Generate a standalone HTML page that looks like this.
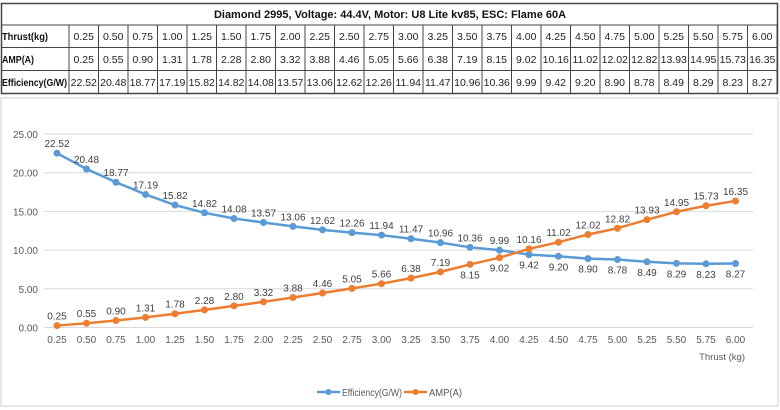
<!DOCTYPE html>
<html><head><meta charset="utf-8"><style>
body{margin:0;width:780px;height:410px;background:#fff;overflow:hidden;font-family:"Liberation Sans",Arial,sans-serif}
svg{position:absolute;left:0;top:0}
</style></head><body>
<svg id="s" width="780" height="410" xmlns="http://www.w3.org/2000/svg"></svg>
<script>
const T=[0.25,0.5,0.75,1,1.25,1.5,1.75,2,2.25,2.5,2.75,3,3.25,3.5,3.75,4,4.25,4.5,4.75,5,5.25,5.5,5.75,6];
const A=[0.25,0.55,0.90,1.31,1.78,2.28,2.80,3.32,3.88,4.46,5.05,5.66,6.38,7.19,8.15,9.02,10.16,11.02,12.02,12.82,13.93,14.95,15.73,16.35];
const E=[22.52,20.48,18.77,17.19,15.82,14.82,14.08,13.57,13.06,12.62,12.26,11.94,11.47,10.96,10.36,9.99,9.42,9.20,8.90,8.78,8.49,8.29,8.23,8.27];
let h='';
h+='<rect x="1.5" y="3.5" width="776" height="90" fill="#fff" stroke="#444" stroke-width="1.5"/>';
h+='<text x="390" y="18" font-size="11" font-weight="bold" text-anchor="middle" fill="#111">Diamond 2995, Voltage: 44.4V, Motor: U8 Lite kv85, ESC: Flame 60A</text>';
[25,47.5,70.5].forEach(y=>h+=`<line x1="1" x2="778" y1="${y}" y2="${y}" stroke="#444"/>`);
const cw=(777-69)/24;
for(let i=0;i<=24;i++){const x=69+i*cw;h+=`<line x1="${x}" x2="${x}" y1="25" y2="93" stroke="#444"/>`;}
const rows=[['Thrust(kg)',T.map(v=>v.toFixed(2)),46],['AMP(A)',A.map(v=>v.toFixed(2)),32],['Efficiency(G/W)',E.map(v=>v.toFixed(2)),65]];
rows.forEach((r,j)=>{const y=40+j*23;h+=`<text x="2" y="${y}" font-size="10" font-weight="bold" fill="#111" textLength="${r[2]}" lengthAdjust="spacingAndGlyphs">${r[0]}</text>`;
r[1].forEach((v,i)=>h+=`<text x="${69+(i+0.5)*cw}" y="${y}" font-size="10.5" text-anchor="middle" fill="#222">${v}</text>`);});
h+='<rect x="1" y="98" width="777" height="308" fill="none" stroke="#d0d0d0"/>';
const X=i=>57+i*29.5, Y=v=>327.5-v*7.74;
for(let k=0;k<=5;k++){const y=Y(k*5);h+=`<line x1="44" x2="753" y1="${y}" y2="${y}" stroke="#d9d9d9"/>`;
h+=`<text x="38" y="${y+4}" font-size="10" text-anchor="end" fill="#595959">${(k*5).toFixed(2)}</text>`;}
T.forEach((t,i)=>h+=`<text x="${X(i)}" y="343" font-size="10" text-anchor="middle" fill="#595959">${t.toFixed(2)}</text>`);
h+='<text x="745" y="360" font-size="9.5" text-anchor="end" fill="#595959">Thrust (kg)</text>';
function series(d,c,below){let p=d.map((v,i)=>`${X(i)},${Y(v)}`).join(' ');
h+=`<polyline points="${p}" fill="none" stroke="${c}" stroke-width="2.5"/>`;
d.forEach((v,i)=>{h+=`<circle cx="${X(i)}" cy="${Y(v)}" r="3.5" fill="${c}"/>`;
const b=below(i);h+=`<text x="${X(i)}" y="${Y(v)+(b?14:-6)}" font-size="10" text-anchor="middle" fill="#404040">${v.toFixed(2)}</text>`;});}
series(E,'#5b9bd5',i=>i>=16);
series(A,'#ed7d31',i=>i==14||i==15);
h+='<line x1="317" x2="340" y1="392" y2="392" stroke="#5b9bd5" stroke-width="2.5"/><circle cx="328.5" cy="392" r="3" fill="#5b9bd5"/>';
h+='<text x="342" y="396" font-size="10" fill="#595959" textLength="60" lengthAdjust="spacingAndGlyphs">Efficiency(G/W)</text>';
h+='<line x1="404" x2="427" y1="392" y2="392" stroke="#ed7d31" stroke-width="2.5"/><circle cx="415.5" cy="392" r="3" fill="#ed7d31"/>';
h+='<text x="429" y="396" font-size="10" fill="#595959" textLength="33" lengthAdjust="spacingAndGlyphs">AMP(A)</text>';
document.getElementById('s').innerHTML=h;
</script>
</body></html>
